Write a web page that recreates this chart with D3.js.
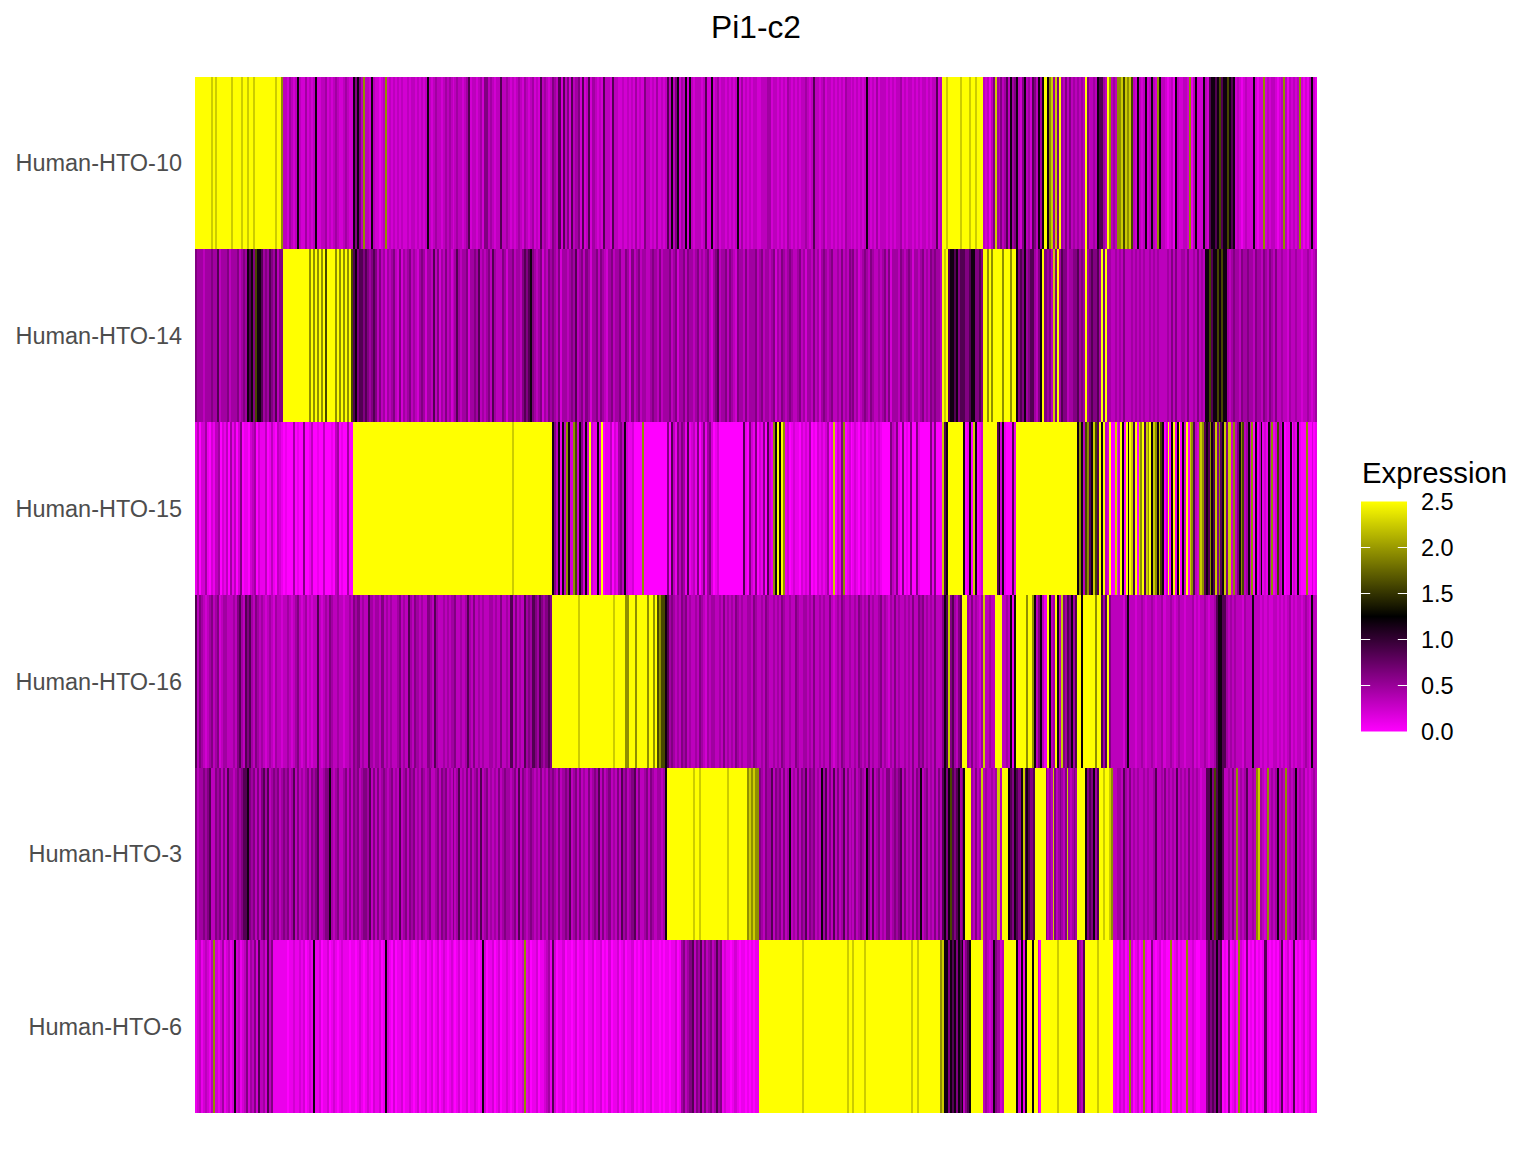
<!DOCTYPE html>
<html><head><meta charset="utf-8">
<script src="https://cdn.jsdelivr.net/npm/d3@7"></script>
<style>html,body{margin:0;background:#fff}svg{display:block;font-family:"Liberation Sans",Arial,sans-serif}</style>
</head><body><svg id="c" width="1536" height="1152"></svg>
<script>
const chartTitle = "Pi1-c2";
const legendTitle = "Expression";
const features = ["Human-HTO-10","Human-HTO-14","Human-HTO-15","Human-HTO-16","Human-HTO-3","Human-HTO-6"];
const legendTicks = [0,0.5,1,1.5,2,2.5];
// how many cells fall in each group of the ordered heatmap
const groupCells = [88,70,199,115,92,183,41,33,61,36,204];
// each character is one estimated expression level, read left to right
const levelKeys = "0123456789ab";
const levelValues = [0,0.1,0.22,0.33,0.46,0.62,0.85,1.17,1.6,1.95,2.25,2.5];
const hto10 = [
"bbbbbbbbababbbbbbbabbbbabbabbabbbbbbbbbbabb9",
"33243237322423237223342323432234322",
"7575393327322123923232323223233232323732343323434323433234623323425534323363343232343243234232634323",
"543626352634526236243232633263322323232423253323242323",
"6373572437273233323622723423323232372423232332",
"23334423323232432323233432363323423323232324332323232373232423332323233423233232323323233623",
"bbabbbbbbabbbbabbabbb",
"323135a4353463745",
"73257342653747b79a4a5b43535343",
"4343b5334376643b93",
"4399a8a9a832732372373297332123173223329137222732677678677876723212322272122923233212393132323921213721"];
const hto14 = [
"54443444544634445344453454767587764546546355",
"bbbbbbbbbbbbb9b9b9b9b8bbbb9b9b9b9b8",
"6756656545653534243453252434534324542443635243534234643445244546343453643335424453443565675434524354",
"5435244345463453542445354324534453354253453443345435344",
"4534524453544345343453245634453543254435344453",
"45344345243543454334534244353424543453343534354534234543543343453524443543454244345343545443",
"bab67767566556775565",
"bb9b9bbbbb9bbb9bb",
"7565745664357b5453a5b465534455",
"6454b4565564b5b443",
"343435333434343433434343333435353344353343534377867787877434544354454435443543543533433243343323343234"];
const hto15 = [
"1302241021340213041302501102340211301310321",
"01000401005001300100300010340100400",
"bbbbbbbbbbbbbbbbbbbbbbbbbbbbbbbbbbbbbbbbbbbbbbbbbbbbbbbbbbbbbbbbbbbbbbbbbbbbbbbbabbbbbbbbbbbbbbbbbbb",
"753717397298275272b21171b0113021453721120000900000000000",
"5063153541612315025145201200000000000061052150",
"215062197b7b9120121102121401021212401a021590120121021201213121000053251050105005100000515000",
"a67bbbbbbb70170a7012",
"bbbbbbb6727100061",
"bbbbbbbbbbbbbbbbbbbbbbbbbbbbbb",
"79738967a86b7b32b0",
"0a02b70b7ba6b0a9b6a9b7a97a8702b07b17b072b0a96329a9676976a5967a5aa29357983472907137121739128327011702171000900201"];
const hto16 = [
"63543234534523443334356436564354343234324332",
"33432345323423233632343543343323343",
"5453433643443534343345343643543433543643343434533434643534343344343533436353436454654654565",
"bbbbbbbbbbbbbabbbbbbbbbbbbbbbbbabbbbb99bbb9bbbbb9bb9b89887",
"6454343545343343543243443343534343543433443543",
"34354334343543343354334434353343433532343543343343543435343345343243534334343533545343435333",
"576a564356bbb43534324",
"a33433bbb3343717",
"bbbbb9bb9735731b734b73a5465746",
"bb7bbbbbb9bb646b53",
"33333247333233432334323342334323433233342323343233467766434343332433373332323223323232342323323432733"];
const hto3 = [
"53445456335453536443454566754535356463454534",
"54534635343453545633455743453345353",
"5453455463535345434534363453545343543453345354534353463435353453634534343534544345363543454343534354",
"5435345463453534353454635345343536453456353345354344347",
"bbbbbbbbbbbbbabbabbbbbbbbbbbbbabbbbbbbbb9a9a99",
"54354463545353473435354635453437463536353463534353454375363453435534545635343535473453435353",
"675786567457bbb43534a",
"3433434a3bbb7657",
"6557a676556bbbbbb5343a5345435a43454",
"bbbb7565746bbabba9",
"3344364353434334343346334353434363434353434323366758677633435393434633439a43239343473439343473434232343"];
const hto6 = [
"1231232139212412312723123524352634263511111",
"11011211212012171120112012101211101",
"1012101210211201721020112011210120112012012012101210120112011210172011201201121012011291201120112341",
"6201120110120112011201120102011201201120101201120110101",
"101120145345635463534534645121101210110101011",
"bbbbbbbbbbbbbbbbbbbbbbabbbbbbbbbbbbbbbbbbbbbbabbabbbbbabbbbbbbbbbbbbbbbbbbbbbbabbabbbbbbbbbbb9",
"a77576757673567bbbbbb",
"3432375423bbbbbb",
"721717bbb7bb20bbbbbbbbbabbbbbbbbbb",
"6436bbbbbbabbbbbbb",
"01021201920120191005101201009012010091121001115656575601050120921050102010161010102601201601012012001"];
const rowValues = [hto10,hto14,hto15,hto16,hto3,hto6];

const svg = d3.select("#c");
const plot = {l:195,r:1317,t:76.5,b:1113};
const x = d3.scaleLinear().domain([0,d3.sum(groupCells)]).range([plot.l,plot.r]);
const y = d3.scaleBand().domain(features).range([plot.t,plot.b]);
const color = d3.scaleLinear().domain([0,1.25,2.5]).range(["#ff00ff","#000000","#ffff00"]).clamp(true);
const groupEdges = d3.cumsum([0].concat(groupCells));

const runs = [];
rowValues.forEach((groups,r)=>groups.forEach((s,g)=>{
  const gx = d3.scaleLinear().domain([0,s.length]).range([groupEdges[g],groupEdges[g+1]]);
  s.split("").forEach((ch,i)=>runs.push({
    feature:features[r], v:levelValues[levelKeys.indexOf(ch)], c0:gx(i), c1:gx(i+1)}));
}));
svg.append("g").attr("shape-rendering","crispEdges").selectAll("rect").data(runs).join("rect")
  .attr("x",d=>x(d.c0)).attr("width",d=>x(d.c1)-x(d.c0)+0.5)
  .attr("y",d=>y(d.feature)).attr("height",y.bandwidth())
  .attr("fill",d=>color(d.v));
// clip over-draw on the right edge
svg.append("rect").attr("x",plot.r).attr("y",plot.t-1).attr("width",2).attr("height",plot.b-plot.t+2).attr("fill","#fff");

const ax = svg.append("g").attr("transform",`translate(${plot.l},1)`)
  .call(d3.axisLeft(y).tickSize(0).tickPadding(13));
ax.select(".domain").remove();
ax.selectAll("text").attr("font-size",23.47).attr("font-family","Liberation Sans").attr("fill","#4d4d4d");

svg.append("text").attr("x",756).attr("y",38).attr("text-anchor","middle")
  .attr("font-size",31.7).attr("fill","#000").text(chartTitle);

// legend
const lg = d3.scaleLinear().domain([0,2.5]).range([731.5,501.5]);
const defs = svg.append("defs").append("linearGradient").attr("id","lg").attr("x1",0).attr("x2",0).attr("y1",1).attr("y2",0);
d3.range(0,1.0001,0.05).forEach(t=>defs.append("stop").attr("offset",t).attr("stop-color",color(t*2.5)));
svg.append("rect").attr("x",1361).attr("y",lg(2.5)).attr("width",46).attr("height",lg(0)-lg(2.5)).attr("fill","url(#lg)");
legendTicks.slice(1,5).forEach(t=>{
  [[1361,1370.2],[1397.8,1407]].forEach(p=>svg.append("line").attr("x1",p[0]).attr("x2",p[1])
    .attr("y1",lg(t)).attr("y2",lg(t)).attr("stroke","#fff").attr("stroke-width",1));
});
svg.append("g").selectAll("text").data(legendTicks).join("text")
  .attr("x",1421).attr("y",d=>lg(d)+8.5).attr("font-size",23.47).attr("fill","#000").text(d=>d.toFixed(1));
svg.append("text").attr("x",1362).attr("y",483).attr("font-size",29.33).attr("fill","#000").text(legendTitle);
</script></body></html>
